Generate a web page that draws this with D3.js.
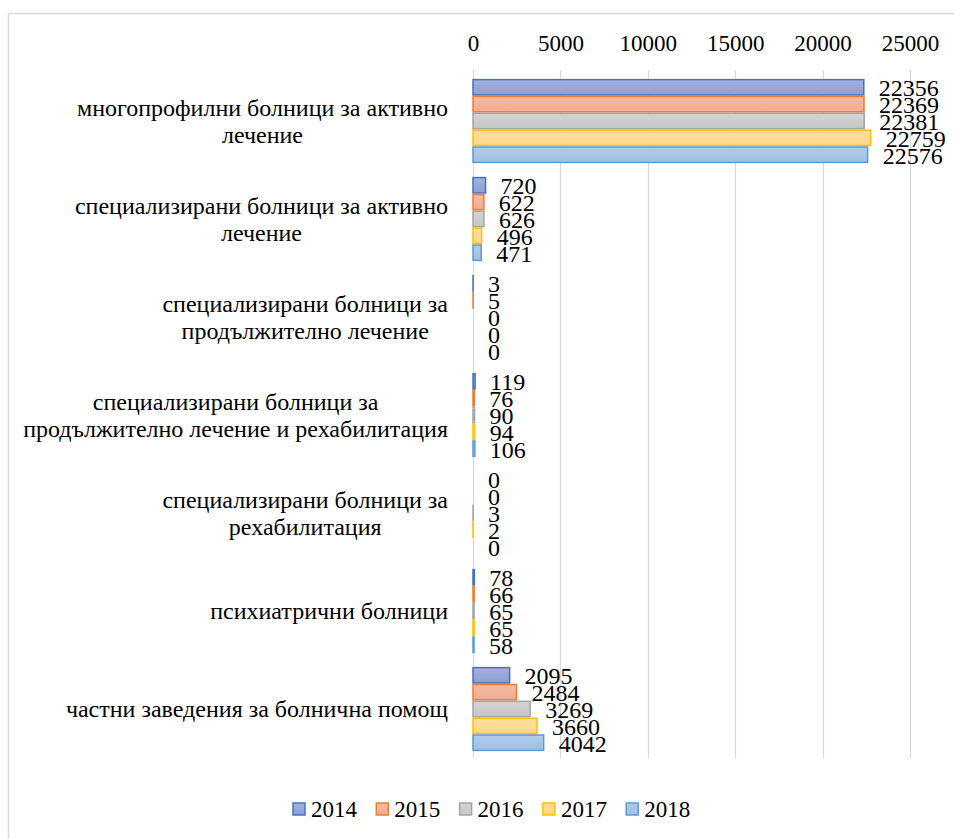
<!DOCTYPE html>
<meta charset="utf-8">
<svg width="954" height="839" font-family="Liberation Serif"></svg>
<script src="https://cdn.jsdelivr.net/npm/d3@7"></script>
<script>

const categories = [
  ["многопрофилни болници за активно", "лечение"],
  ["специализирани болници за активно", "лечение"],
  ["специализирани болници за", "продължително лечение"],
  ["специализирани болници за", "продължително лечение и рехабилитация"],
  ["специализирани болници за", "рехабилитация"],
  ["психиатрични болници"],
  ["частни заведения за болнична помощ"]
];
const years = ["2014", "2015", "2016", "2017", "2018"];
const values2014 = [22356, 720, 3, 119, 0, 78, 2095];
const values2015 = [22369, 622, 5, 76, 0, 66, 2484];
const values2016 = [22381, 626, 0, 90, 3, 65, 3269];
const values2017 = [22759, 496, 0, 94, 2, 65, 3660];
const values2018 = [22576, 471, 0, 106, 0, 58, 4042];
const tickValues = [0, 5000, 10000, 15000, 20000, 25000];

const series = [values2014, values2015, values2016, values2017, values2018];
const strokes = ["#4472c4", "#ed7d31", "#a5a5a5", "#ffc000", "#5b9bd5"];
const fillsTop = ["#a3b1de", "#f6bba4", "#d4d4d4", "#ffdf9c", "#b1cceb"];
const fillsBot = ["#8d9ed3", "#f2ab92", "#c6c6c6", "#ffd68a", "#9fbfe5"];
const serifFont = "'Liberation Serif'";

d3.select("body").style("margin", "0px");
const svg = d3.select("svg").style("display", "block");
const defs = svg.append("defs");
years.forEach((y, i) => {
  const g = defs.append("linearGradient").attr("id", "g" + i)
    .attr("x1", 0).attr("y1", 0).attr("x2", 0).attr("y2", 1);
  g.append("stop").attr("offset", "0%").attr("stop-color", fillsTop[i]);
  g.append("stop").attr("offset", "100%").attr("stop-color", fillsBot[i]);
});

// chart border
svg.append("rect")
  .attr("x", 8.5).attr("y", 13.5)
  .attr("width", 960).attr("height", 840)
  .attr("fill", "none").attr("stroke", "#d9d9d9").attr("stroke-width", 1.5);

const x = d3.scaleLinear().domain([0, 25000]).range([473, 910]);
const y = d3.scaleBand().domain(d3.range(categories.length)).range([72, 758]).paddingInner(0.14).paddingOuter(0.07);
const yInner = d3.scaleBand().domain(d3.range(years.length)).range([0, y.bandwidth()]);

// gridlines
svg.append("g").selectAll("line")
  .data(tickValues)
  .join("line")
  .attr("x1", d => Math.round(x(d)) + 0.5).attr("x2", d => Math.round(x(d)) + 0.5)
  .attr("y1", 70).attr("y2", 758)
  .attr("stroke", "#d9d9d9").attr("stroke-width", 1.2);

// top axis
const axis = d3.axisTop(x).tickValues(tickValues).tickSize(0).tickPadding(0).tickFormat(d3.format("d"));
const ax = svg.append("g").attr("transform", "translate(0,51)").call(axis)
  .attr("font-family", "Liberation Serif").attr("font-size", 23);
ax.select(".domain").remove();
ax.selectAll("text").attr("font-family", "Liberation Serif").style("font-family", serifFont)
  .style("font-size", "23px").attr("fill", "#000");

// bars
const groups = svg.append("g").selectAll("g")
  .data(categories.map((c, i) => i))
  .join("g")
  .attr("transform", i => "translate(0," + y(i) + ")");

groups.selectAll("rect")
  .data(i => series.map((s, k) => ({ k: k, v: s[i] })))
  .join("rect")
  .attr("x", x(0))
  .attr("y", d => yInner(d.k) + 0.75)
  .attr("width", d => Math.max(x(d.v) - x(0), 0))
  .attr("height", yInner.bandwidth() - 1.5)
  .attr("fill", d => "url(#g" + d.k + ")")
  .attr("stroke", d => strokes[d.k])
  .attr("stroke-width", d => d.v > 0 ? 1.5 : 0.6)
  .attr("stroke-opacity", d => d.v > 0 ? 1 : 0.3);

groups.selectAll("text")
  .data(i => series.map((s, k) => ({ k: k, v: s[i] })))
  .join("text")
  .attr("x", d => x(d.v) + 15)
  .attr("y", d => yInner(d.k) + yInner.bandwidth() / 2 + 9)
  .attr("font-family", "Liberation Serif")
  .style("font-family", serifFont)
  .style("font-size", "24px")
  .text(d => d.v);

// category labels
const labels = svg.append("g").selectAll("text")
  .data(categories)
  .join("text")
  .attr("font-family", "Liberation Serif")
  .style("font-family", serifFont)
  .style("font-size", "24px")
  .attr("text-anchor", "middle");

labels.each(function(lines, i) {
  const t = d3.select(this);
  const cy = y(i) + y.bandwidth() / 2;
  const lh = 27;
  lines.forEach((l, j) => {
    t.append("tspan").attr("y", cy + (j - (lines.length - 1) / 2) * lh + 8).text(l);
  });
  let w = 0;
  t.selectAll("tspan").each(function() { w = Math.max(w, this.getComputedTextLength()); });
  t.selectAll("tspan").attr("x", 448 - w / 2);
});

// legend
const leg = svg.append("g").selectAll("g")
  .data(years)
  .join("g")
  .attr("transform", (d, i) => "translate(" + (293 + i * 83.3) + ",809)");
leg.append("rect")
  .attr("x", 0).attr("y", -6).attr("width", 12).attr("height", 12)
  .attr("fill", (d, i) => "url(#g" + i + ")")
  .attr("stroke", (d, i) => strokes[i]).attr("stroke-width", 1.5);
leg.append("text")
  .attr("x", 18).attr("y", 8)
  .attr("font-family", "Liberation Serif")
  .style("font-family", serifFont)
  .style("font-size", "23px")
  .text(d => d);

</script>
